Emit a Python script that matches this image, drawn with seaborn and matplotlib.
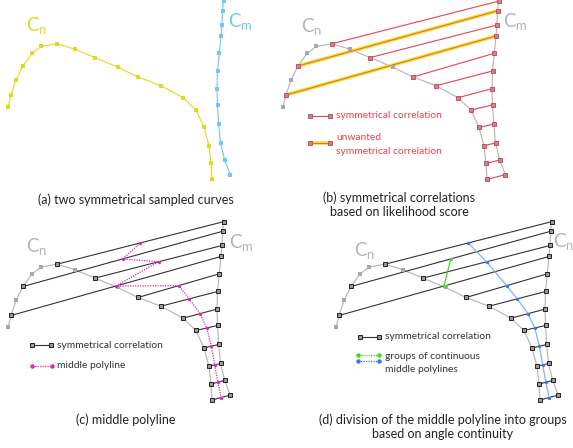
import numpy as np
import pandas as pd
import matplotlib
matplotlib.use("Agg")
import matplotlib.pyplot as plt
import seaborn as sns

# ---------------- data (panel-(a) frame, pixels) ----------------
cn_x = [8, 11, 16, 23, 32, 41, 57, 75, 95, 117.5, 138, 161, 183, 196, 204, 209, 211, 212]
cn_y = [107, 95, 80, 66, 53.5, 46.5, 43.7, 49.3, 57.6, 67, 77, 85.7, 97.7, 110, 127.5, 145.7, 163.5, 179.5]
cm_x = [223.5, 222.5, 222, 221, 219.3, 217.5, 217, 217.5, 218.7, 220.5, 224.7, 230.3]
cm_y = [1.2, 10.8, 25, 36, 53.3, 71, 88.6, 105, 124, 143, 160, 174.6]
# symmetrical correlations: index on Cn matched with index on Cm
pair_cn = [6, 3, 8, 1, 10, 11, 12, 13, 14, 15, 16, 17]
pair_cm = [0, 1, 2, 3, 4, 5, 6, 7, 8, 9, 10, 11]
unwanted_pairs = [1, 3]
green_group = [1, 3]
blue_group = [0, 2, 4, 5, 6, 7, 8, 9, 10, 11]

captions = {
    "a": ["(a) two symmetrical sampled curves"],
    "b": ["(b) symmetrical correlations", "based on likelihood score"],
    "c": ["(c) middle polyline"],
    "d": ["(d) division of the middle polyline into groups", "based on angle continuity"],
}
legend_b = ["symmetrical correlation", "unwanted", "symmetrical correlation"]
legend_c = ["symmetrical correlation", "middle polyline"]
legend_d = ["symmetrical correlation", "groups of continuous", "middle polylines"]

# ---------------- style ----------------
sns.set_theme(style="white")
plt.rcParams["font.family"] = ["Lato", "DejaVu Sans"]
plt.rcParams["mathtext.fontset"] = "custom"
plt.rcParams["mathtext.rm"] = "Lato"
plt.rcParams["mathtext.it"] = "Lato"
plt.rcParams["mathtext.bf"] = "Lato"

W, H = 573, 448
fig = plt.figure(figsize=(W / 100, H / 100), dpi=100)
ax = fig.add_axes([0, 0, 1, 1])
ax.set_xlim(0, W)
ax.set_ylim(H, 0)
ax.axis("off")

YEL = "#dedb1f"
BLU = "#6fc8ef"
GRY = "#b4b4b4"
RED = "#e8434f"
ORG = "#f2e23a"
DARK = "#333333"
MAG = "#e523c4"
GRN = "#3fdc1f"
BL2 = "#2f7cf2"

OFF = {"a": (0, 0), "b": (275, 0), "c": (0, 220.5), "d": (328, 220.5)}

cnx = np.array(cn_x); cny = np.array(cn_y)
cmx = np.array(cm_x); cmy = np.array(cm_y)


def curve(xs, ys, off, color, lw=0.8, z=2):
    df = pd.DataFrame({"x": xs + off[0], "y": ys + off[1]})
    sns.lineplot(data=df, x="x", y="y", sort=False, estimator=None, color=color,
                 lw=lw, ax=ax, zorder=z, legend=False)


def pts(xs, ys, off, face, edge=None, ms=2.2, mew=0.0, marker="s", z=5):
    ax.plot(np.asarray(xs) + off[0], np.asarray(ys) + off[1], ls="none", marker=marker,
            ms=ms, mfc=face, mec=edge if edge else face, mew=mew, zorder=z)


def pairs_df(off, idx):
    rows = []
    for k in idx:
        i, j = pair_cn[k], pair_cm[k]
        rows.append((k, cnx[i] + off[0], cny[i] + off[1]))
        rows.append((k, cmx[j] + off[0], cmy[j] + off[1]))
    return pd.DataFrame(rows, columns=["pair", "x", "y"])


def label(x, y, sub, color):
    # x = left of the C, y = vertical centre of the C
    ax.text(x - 0.5, y + 6.8, r"C$_{\mathregular{%s}}$" % sub, fontsize=13.5, color=color,
            ha="left", va="baseline")


def caption(cx, ys, lines):
    for yy, t in zip(ys, lines):
        ax.text(cx, yy, t, fontsize=9.0, color="#222222", ha="center", va="center")


mid_x = np.array([(cnx[pair_cn[k]] + cmx[pair_cm[k]]) / 2 for k in range(len(pair_cn))])
mid_y = np.array([(cny[pair_cn[k]] + cmy[pair_cm[k]]) / 2 for k in range(len(pair_cn))])
unmatched_cn = [i for i in range(len(cn_x)) if i not in pair_cn]

# ---------------- (a) ----------------
o = OFF["a"]
curve(cnx, cny, o, YEL)
pts(cnx, cny, o, YEL)
curve(cmx, cmy, o, BLU)
pts(cmx, cmy, o, BLU)
label(26.5, 24.5, "n", YEL)
label(228.3, 20.5, "m", BLU)
caption(136, [199.5], captions["a"])

# ---------------- (b) ----------------
o = OFF["b"]
curve(cnx, cny, o, GRY)
curve(cmx, cmy, o, GRY)
pts(cnx[unmatched_cn], cny[unmatched_cn], o, "#a8a8a8")
normal = [k for k in range(len(pair_cn)) if k not in unwanted_pairs]
sns.lineplot(data=pairs_df(o, normal), x="x", y="y", units="pair", estimator=None,
             sort=False, color=RED, lw=0.8, ax=ax, zorder=3, legend=False)
dfu = pairs_df(o, unwanted_pairs)
sns.lineplot(data=dfu, x="x", y="y", units="pair", estimator=None,
             sort=False, color=ORG, lw=2.6, ax=ax, zorder=3, legend=False)
sns.lineplot(data=dfu, x="x", y="y", units="pair", estimator=None,
             sort=False, color="#e8702a", lw=0.8, ax=ax, zorder=3.5, legend=False)
pts(cnx[pair_cn], cny[pair_cn], o, "#9a9a9a", RED, ms=2.6, mew=0.7)
pts(cmx[pair_cm], cmy[pair_cm], o, "#9a9a9a", RED, ms=2.6, mew=0.7)
label(301.5, 25, "n", GRY)
label(503.3, 20.5, "m", GRY)
# legend
ax.plot([310, 330], [115.7, 115.7], color=RED, lw=0.8, marker="s", ms=2.6,
        mfc="#9a9a9a", mec=RED, mew=0.7, zorder=5)
ax.plot([310, 330], [142.7, 142.7], color=ORG, lw=2.6, zorder=4)
ax.plot([310, 330], [142.7, 142.7], color="#e8702a", lw=0.8, marker="s", ms=2.6,
        mfc="#9a9a9a", mec=RED, mew=0.7, zorder=5)
ax.text(336.5, 115.7, legend_b[0], fontsize=7.4, color=RED, va="center")
ax.text(336.5, 137.3, legend_b[1], fontsize=7.4, color=RED, va="center")
ax.text(336.5, 151, legend_b[2], fontsize=7.4, color=RED, va="center")
caption(399, [198, 212.5], captions["b"])


def black_pairs(o):
    curve(cnx, cny, o, GRY)
    curve(cmx, cmy, o, GRY)
    pts(cnx[unmatched_cn], cny[unmatched_cn], o, "#a8a8a8")
    sns.lineplot(data=pairs_df(o, range(len(pair_cn))), x="x", y="y", units="pair",
                 estimator=None, sort=False, color=DARK, lw=0.8, ax=ax, zorder=3,
                 legend=False)
    pts(cnx[pair_cn], cny[pair_cn], o, "#9a9a9a", "#222222", ms=2.6, mew=0.7)
    pts(cmx[pair_cm], cmy[pair_cm], o, "#9a9a9a", "#222222", ms=2.6, mew=0.7)


# ---------------- (c) ----------------
o = OFF["c"]
black_pairs(o)
ax.plot(mid_x + o[0], mid_y + o[1], color=MAG, lw=0.9, ls=(0, (1, 1)), zorder=6)
pts(mid_x, mid_y, o, MAG, ms=2.4, marker="o", z=7)
label(26.5, 245.5, "n", GRY)
label(229.5, 241.5, "m", GRY)
ax.plot([32.3, 51], [345, 345], color=DARK, lw=0.8, marker="s", ms=2.6,
        mfc="#9a9a9a", mec="#222222", mew=0.7, zorder=5)
ax.plot([31.7, 52.3], [365.7, 365.7], color=MAG, lw=0.9, ls=(0, (1, 1)),
        marker="o", ms=2.2, mfc=MAG, mec=MAG, zorder=5)
ax.text(57.3, 345, legend_c[0], fontsize=7.4, color=DARK, va="center")
ax.text(57.3, 365.7, legend_c[1], fontsize=7.4, color=DARK, va="center")
caption(126, [419.5], captions["c"])

# ---------------- (d) ----------------
o = OFF["d"]
black_pairs(o)
ax.plot(mid_x[blue_group] + o[0], mid_y[blue_group] + o[1], color="#7fb4f7", lw=0.9,
        zorder=6)
pts(mid_x[blue_group], mid_y[blue_group], o, BL2, ms=2.4, marker="o", z=7)
ax.plot(mid_x[green_group] + o[0], mid_y[green_group] + o[1], color=GRN, lw=0.9,
        zorder=6)
pts(mid_x[green_group], mid_y[green_group], o, GRN, ms=2.4, marker="o", z=7)
label(354.5, 249.5, "n", GRY)
label(553.5, 240.5, "n", GRY)
ax.plot([360, 379.3], [336.7, 336.7], color=DARK, lw=0.8, marker="s", ms=2.6,
        mfc="#9a9a9a", mec="#222222", mew=0.7, zorder=5)
ax.plot([358.3, 379.3], [355.3, 355.3], color=GRN, lw=0.9, ls=(0, (1, 1)),
        marker="o", ms=2.2, mfc=GRN, mec=GRN, zorder=5)
ax.plot([358.3, 379.3], [361, 361], color=BL2, lw=0.9, ls=(0, (1, 1)),
        marker="o", ms=2.2, mfc=BL2, mec=BL2, zorder=5)
ax.text(385, 336.7, legend_d[0], fontsize=7.4, color=DARK, va="center")
ax.text(385, 356.7, legend_d[1], fontsize=7.4, color=DARK, va="center")
ax.text(385, 370, legend_d[2], fontsize=7.4, color=DARK, va="center")
caption(443, [419.5, 434], captions["d"])

fig.savefig("out.png", dpi=100)
